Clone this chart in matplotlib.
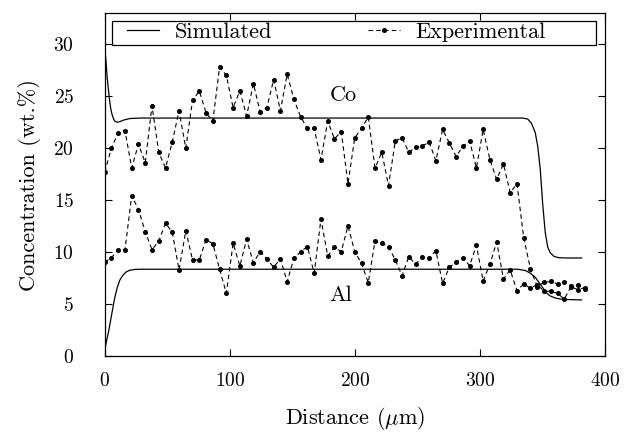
import matplotlib
matplotlib.use("Agg")
import matplotlib.pyplot as plt
from matplotlib.patches import Rectangle

plt.rcParams["font.family"] = "cmr10"
plt.rcParams["mathtext.fontset"] = "cm"
plt.rcParams["axes.formatter.use_mathtext"] = True

# experimental profile (EDS line scan)
distance = [0.0, 5.4, 10.8, 16.2, 21.6, 27.0, 32.4, 37.8, 43.2, 48.6, 54.0, 59.4,
            64.8, 70.2, 75.6, 81.0, 86.4, 91.8, 97.2, 102.6, 108.0, 113.4, 118.8, 124.2,
            129.6, 135.0, 140.4, 145.8, 151.2, 156.6, 162.0, 167.4, 172.8, 178.2, 183.6, 189.0,
            194.4, 199.8, 205.2, 210.6, 216.0, 221.4, 226.8, 232.2, 237.6, 243.0, 248.4, 253.8,
            259.2, 264.6, 270.0, 275.4, 280.8, 286.2, 291.6, 297.0, 302.4, 307.8, 313.2, 318.6,
            324.0, 329.4, 334.8, 340.2, 345.6, 351.0, 356.4, 361.8, 367.2, 372.6, 378.0, 383.4]

co_exp = [17.7, 20.0, 21.5, 21.7, 18.1, 20.4, 18.6, 24.1, 19.6, 18.1, 20.6, 23.6,
          20.0, 24.6, 25.5, 23.4, 22.6, 27.8, 27.0, 23.9, 25.5, 23.1, 26.2, 23.5,
          23.9, 26.6, 23.6, 27.1, 24.7, 23.0, 21.9, 21.9, 18.9, 22.6, 20.9, 21.6,
          16.6, 21.0, 21.9, 23.0, 18.1, 19.6, 16.4, 20.7, 21.0, 19.6, 20.1, 20.2,
          20.6, 18.8, 21.8, 20.5, 19.2, 20.2, 20.7, 18.1, 21.8, 18.9, 17.0, 18.5,
          15.7, 16.6, 11.4, 8.4, 6.7, 7.1, 7.2, 6.95, 7.1, 6.75, 6.85, 6.5]

al_exp = [9.04, 9.48, 10.25, 10.25, 15.44, 14.1, 11.98, 10.25, 11.06, 12.79, 11.92, 8.3,
          12.08, 9.26, 9.26, 11.21, 10.83, 8.37, 6.06, 10.87, 8.68, 11.25, 9.0, 10.06,
          9.36, 8.56, 9.38, 7.17, 9.42, 10.06, 10.54, 7.98, 13.2, 9.64, 10.48, 10.06,
          12.53, 10.06, 8.94, 7.08, 11.09, 10.87, 10.54, 9.26, 7.75, 9.58, 8.85, 9.58,
          9.42, 10.15, 7.02, 8.56, 9.04, 9.48, 8.71, 10.67, 7.24, 8.85, 10.99, 7.43,
          8.3, 6.31, 6.95, 6.54, 6.9, 6.25, 6.25, 6.05, 5.5, 6.7, 6.4, 6.6]

# simulated profiles
co_sim_x = [0, 1, 2, 3, 4, 5, 6, 7, 8, 10, 12, 15, 20, 28, 60,
            334, 338, 341, 344, 346, 348, 350, 352, 354, 356, 359, 363, 370, 381]
co_sim_y = [29.9, 28.4, 26.8, 25.6, 24.5, 23.7, 23.2, 22.85, 22.6, 22.5, 22.55, 22.7, 22.85, 22.9, 22.9,
            22.9, 22.8, 22.4, 21.5, 20.2, 18.0, 14.6, 11.9, 10.5, 9.95, 9.6, 9.47, 9.45, 9.45]

al_sim_x = [0, 1.5, 3, 4.5, 6, 8, 10, 12, 14, 17, 20, 24, 30, 40,
            330, 336, 340, 344, 347, 350, 353, 356, 360, 366, 381]
al_sim_y = [0.6, 1.5, 2.3, 3.3, 4.3, 5.6, 6.6, 7.3, 7.7, 8.1, 8.27, 8.35, 8.37, 8.37,
            8.37, 8.25, 8.0, 7.6, 7.1, 6.6, 6.1, 5.8, 5.6, 5.47, 5.42]

FS = 16

fig = plt.figure(figsize=(6.25, 4.44), dpi=100)
ax = fig.add_axes([0.1675, 0.1975, 0.801, 0.7733])

ax.plot(co_sim_x, co_sim_y, color="black", lw=0.9, label="Simulated")
ax.plot(al_sim_x, al_sim_y, color="black", lw=0.9)

ax.plot(distance, co_exp, color="black", lw=0.8, dashes=(4, 3),
        marker="o", ms=2.6, label="Experimental")
ax.plot(distance, al_exp, color="black", lw=0.8, dashes=(4, 3),
        marker="o", ms=2.6)

ax.text(179.8, 25.1, "Co", fontsize=FS, ha="left", va="center")
ax.text(179.8, 5.9, "Al", fontsize=FS, ha="left", va="center")

ax.set_xlim(0, 400)
ax.set_ylim(0, 33)
ax.set_xticks([0, 100, 200, 300, 400])
ax.set_yticks([0, 5, 10, 15, 20, 25, 30])
ax.tick_params(direction="in", length=5, width=0.8, top=True, right=True,
               labelsize=14)
ax.tick_params(axis="x", pad=11)
ax.tick_params(axis="y", pad=22)
for sp in ax.spines.values():
    sp.set_linewidth(0.9)

ax.set_xlabel(r"Distance ($\mu$m)", fontsize=FS, labelpad=11)
ax.set_ylabel("Concentration (wt.%)", fontsize=FS, labelpad=9)

leg = ax.legend(loc="center left", bbox_to_anchor=(0.0445, 0.944), ncol=2,
                fontsize=FS, frameon=False, borderaxespad=0, borderpad=0,
                handlelength=1.45, handletextpad=0.7, columnspacing=4.3)
ax.add_patch(Rectangle((0.015, 0.906), 0.966, 0.0716, transform=ax.transAxes,
                       fill=False, edgecolor="black", lw=0.9, zorder=5))

fig.savefig("out.png", dpi=100)
